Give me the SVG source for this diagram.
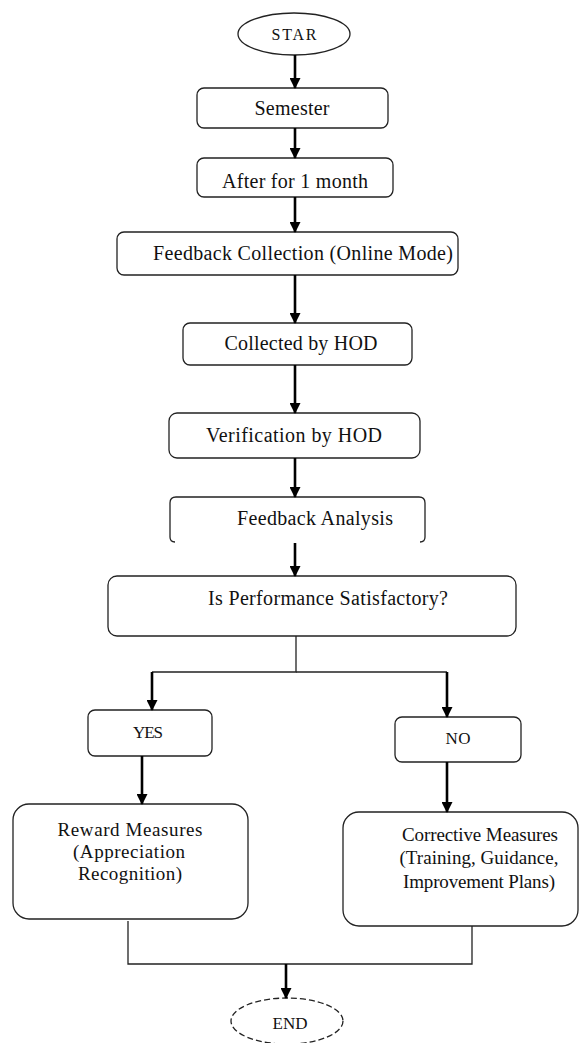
<svg xmlns="http://www.w3.org/2000/svg" width="579" height="1043" viewBox="0 0 579 1043">
<style>
.box{fill:#fff;stroke:#222;stroke-width:1.3}
text{font-family:'Liberation Serif','Times New Roman','DejaVu Serif',serif;fill:#111;text-anchor:middle}
.arr{stroke:#000;stroke-width:2.6;fill:none;marker-end:url(#ah)}
.ln{stroke:#222;stroke-width:1.3;fill:none}
</style>
<defs>
<marker id="ah" markerUnits="userSpaceOnUse" markerWidth="11" markerHeight="11" refX="10" refY="5.5" orient="auto">
<path d="M0,0 L11,5.5 L0,11 z" fill="#000"/>
</marker>
</defs>
<rect width="579" height="1043" fill="#fff"/>
<g id="start">
<ellipse class="box" cx="294" cy="34" rx="56" ry="21"/>
<text x="294" y="40" font-size="16" textLength="45" lengthAdjust="spacing">STAR</text>
</g>
<g id="semester">
<rect class="box" x="197" y="88" width="191" height="40" rx="7"/>
<text x="292" y="115" font-size="20" textLength="75" lengthAdjust="spacing">Semester</text>
</g>
<g id="after">
<rect class="box" x="197" y="158" width="196" height="39" rx="7"/>
<text x="295" y="188" font-size="20" textLength="146" lengthAdjust="spacing">After for 1 month</text>
</g>
<g id="collection">
<rect class="box" x="117" y="232" width="341" height="43" rx="7"/>
<text x="303" y="260" font-size="20" textLength="300" lengthAdjust="spacing">Feedback Collection (Online Mode)</text>
</g>
<g id="collected">
<rect class="box" x="183" y="323" width="229" height="42" rx="7"/>
<text x="301" y="350" font-size="20" textLength="153" lengthAdjust="spacing">Collected by HOD</text>
</g>
<g id="verification">
<rect class="box" x="169" y="413" width="251" height="45" rx="8"/>
<text x="294" y="442" font-size="20" textLength="176" lengthAdjust="spacing">Verification by HOD</text>
</g>
<g id="analysis">
<path class="ln" d="M175,542 Q170,542 170,537 L170,503 Q170,497 176,497 L419,497 Q425,497 425,503 L425,537 Q425,542 420,542"/>
<text x="315" y="525" font-size="20" textLength="156" lengthAdjust="spacing">Feedback Analysis</text>
</g>
<g id="decision">
<rect class="box" x="108" y="576" width="408" height="60" rx="9"/>
<text x="328" y="605" font-size="20" textLength="240" lengthAdjust="spacing">Is Performance Satisfactory?</text>
</g>
<g id="yes">
<rect class="box" x="88" y="710" width="124" height="46" rx="7"/>
<text x="148" y="738" font-size="17" textLength="30" lengthAdjust="spacing">YES</text>
</g>
<g id="no">
<rect class="box" x="395" y="717" width="126" height="45" rx="7"/>
<text x="458" y="744" font-size="17" textLength="25" lengthAdjust="spacing">NO</text>
</g>
<g id="reward">
<rect class="box" x="13" y="804" width="235" height="115" rx="16"/>
<text x="130" y="836" font-size="19" textLength="145" lengthAdjust="spacing">Reward Measures</text>
<text x="129" y="858" font-size="19" textLength="112" lengthAdjust="spacing">(Appreciation</text>
<text x="130" y="880" font-size="19" textLength="104" lengthAdjust="spacing">Recognition)</text>
</g>
<g id="corrective">
<rect class="box" x="343" y="812" width="235" height="114" rx="16"/>
<text x="480" y="841" font-size="19" textLength="156" lengthAdjust="spacing">Corrective Measures</text>
<text x="479" y="864" font-size="19" textLength="159" lengthAdjust="spacing">(Training, Guidance,</text>
<text x="479" y="888" font-size="19" textLength="152" lengthAdjust="spacing">Improvement Plans)</text>
</g>
<g id="end">
<ellipse class="box" cx="287" cy="1021" rx="56" ry="23" stroke-dasharray="6,3"/>
<text x="290" y="1029" font-size="17" textLength="35" lengthAdjust="spacing">END</text>
</g>
<g id="connectors">
<line class="arr" x1="295" y1="55" x2="295" y2="88"/>
<line class="arr" x1="295" y1="128" x2="295" y2="158"/>
<line class="arr" x1="295" y1="197" x2="295" y2="232"/>
<line class="arr" x1="295" y1="275" x2="295" y2="323"/>
<line class="arr" x1="295" y1="365" x2="295" y2="413"/>
<line class="arr" x1="295" y1="458" x2="295" y2="497"/>
<line class="arr" x1="295" y1="543" x2="295" y2="576"/>
<polyline class="ln" points="296,636 296,672 152,672"/>
<polyline class="ln" points="296,672 447,672"/>
<line class="arr" x1="152" y1="672" x2="152" y2="710"/>
<line class="arr" x1="447" y1="672" x2="447" y2="717"/>
<line class="arr" x1="142" y1="756" x2="142" y2="804"/>
<line class="arr" x1="447" y1="762" x2="447" y2="812"/>
<polyline class="ln" points="128,921 128,964 472,964 472,926"/>
<line class="arr" x1="286" y1="964" x2="286" y2="998"/>
</g>
</svg>
